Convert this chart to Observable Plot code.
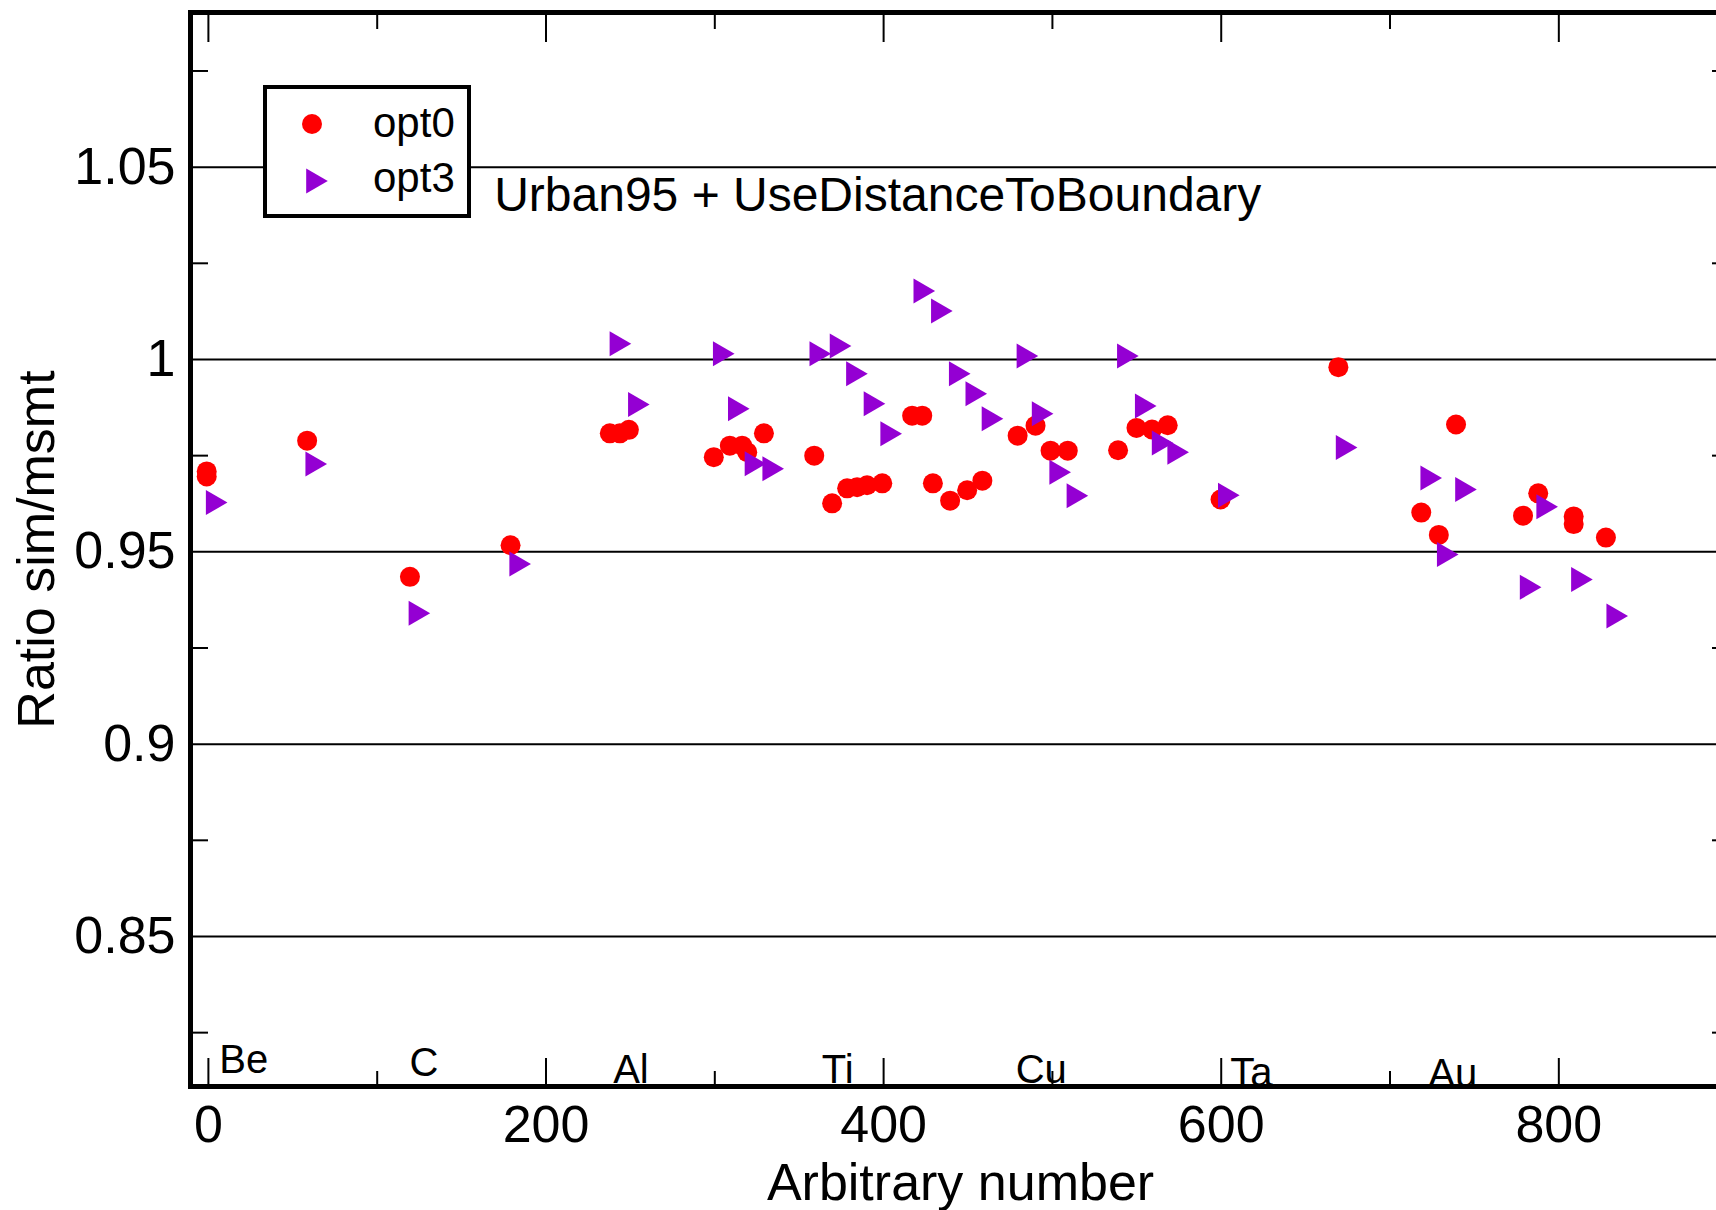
<!DOCTYPE html>
<html>
<head>
<meta charset="utf-8">
<script src="https://cdn.jsdelivr.net/npm/d3@7"></script>
<script src="https://cdn.jsdelivr.net/npm/@observablehq/plot@0.6"></script>
<style>
  html, body { margin: 0; padding: 0; overflow: hidden; background: #fff; }
  #wrap { position: relative; width: 1716px; height: 1210px; overflow: hidden; }
  #wrap > svg.chart { max-width: none !important; width: 1730px; height: 1210px; display: block; }
  #legend { position: absolute; left: 263px; top: 85px; }
</style>
</head>
<body>
<div id="wrap"></div>
<script>
// ---- data ----
const opt0X = [-1, -1, 58.5, 119.4, 179, 237.8, 243.8, 249.1, 299.4, 308.9, 316.2, 319.2, 329.1,
  358.9, 369.5, 378.4, 384.3, 390.2, 399.2, 416.9, 422.9, 429.2, 439.4, 449.5, 458.5,
  479.4, 490, 498.9, 509.1, 538.9, 549.8, 559, 568.3, 599.6, 669.4,
  718.5, 728.9, 739.1, 778.8, 787.8, 808.8, 808.8, 827.9];
const opt0Y = [0.9709, 0.9696, 0.9789, 0.9435, 0.9517, 0.9808, 0.9808, 0.9817, 0.9746, 0.9776, 0.9776, 0.9759, 0.9808,
  0.975, 0.9626, 0.9665, 0.9668, 0.9673, 0.9678, 0.9854, 0.9854, 0.9678, 0.9633, 0.966, 0.9685,
  0.9802, 0.9828, 0.9763, 0.9763, 0.9764, 0.9822, 0.9818, 0.9829, 0.9636, 0.998,
  0.9602, 0.9544, 0.9831, 0.9594, 0.9652, 0.9592, 0.9572, 0.9537];

const opt3X = [4.9, 63.9, 125, 184.7, 244.1, 255, 305.3, 314.2, 324.1, 334.6,
  362.5, 374.5, 384.2, 394.6, 404.5, 424.1, 434.5, 445.1, 454.9, 464.5,
  485.2, 494.2, 504.6, 514.8, 544.7, 555.3, 565.3, 574.5, 604.5, 674.3,
  724.4, 734.2, 745, 783.3, 793.1, 813.7, 834.6];
const opt3Y = [0.9628, 0.9728, 0.934, 0.9468, 1.0041, 0.9883, 1.0015, 0.9872, 0.9729, 0.9716,
  1.0015, 1.0035, 0.9963, 0.9885, 0.9807, 1.0178, 1.0126, 0.9963, 0.9911, 0.9846,
  1.0009, 0.9859, 0.9707, 0.9646, 1.0009, 0.9879, 0.9783, 0.9759, 0.9647, 0.9771,
  0.9692, 0.9493, 0.9662, 0.9408, 0.9617, 0.9428, 0.9333];

const elemNames = ["Be", "C", "Al", "Ti", "Cu", "Ta", "Au"];
const elemX = [21, 127.7, 250.3, 372.8, 493.4, 617.9, 737.2];
const elemY = [0.8144, 0.8136, 0.812, 0.812, 0.8118, 0.8112, 0.811];

const seriesNames = ["opt0", "opt3"];
const annText = ["Urban95 + UseDistanceToBoundary"];
const annX = [169.3];
const annY = [1.0386];

const xMajor = [0, 200, 400, 600, 800];
const xMinor = [100, 300, 500, 700];
const yMajor = [0.85, 0.9, 0.95, 1, 1.05];
const yMinor = [0.825, 0.875, 0.925, 0.975, 1.025, 1.075];

const xDomain = [-10.6, 901.7];
const yDomain = [0.811, 1.0902];

// ---- styles ----
const RED = "#ff0000";
const VIOLET = "#9400d3";
const FONT = "'Liberation Sans', Arial, Helvetica, sans-serif";

const triRight = {
  draw(ctx, size) {
    const r = Math.sqrt(size / Math.PI);
    const h = r * 1.25, w = r * 1.08;
    ctx.moveTo(-w, -h);
    ctx.lineTo(w, 0);
    ctx.lineTo(-w, h);
    ctx.closePath();
  }
};

const opt0 = opt0X.map((x, i) => ({x, y: opt0Y[i]}));
const opt3 = opt3X.map((x, i) => ({x, y: opt3Y[i]}));
const elems = elemNames.map((t, i) => ({t, x: elemX[i], y: elemY[i]}));
const ann = annText.map((t, i) => ({t, x: annX[i], y: annY[i]}));

const W = 1730, H = 1210, ML = 190, MR = 0, MT = 12, MB = 124;
const PW = W - ML - MR, PH = H - MT - MB;

const chart = Plot.plot({
  width: W, height: H,
  marginLeft: ML, marginRight: MR, marginTop: MT, marginBottom: MB,
  className: "chart",
  style: {fontFamily: FONT, fontSize: "52px", background: "white", color: "black", maxWidth: "none", overflow: "hidden"},
  x: {domain: xDomain},
  y: {domain: yDomain},
  marks: [
    Plot.ruleY(yMajor, {stroke: "black", strokeWidth: 2}),
    Plot.tickY(yMinor, {stroke: "black", strokeWidth: 2, insetRight: PW - 18}),
    Plot.tickY(yMinor, {stroke: "black", strokeWidth: 2, insetLeft: PW - 18}),
    Plot.tickX(xMajor, {stroke: "black", strokeWidth: 2, insetTop: PH - 28}),
    Plot.tickX(xMinor, {stroke: "black", strokeWidth: 2, insetTop: PH - 15}),
    Plot.tickX(xMajor, {stroke: "black", strokeWidth: 2, insetBottom: PH - 30}),
    Plot.tickX(xMinor, {stroke: "black", strokeWidth: 2, insetBottom: PH - 17}),
    Plot.frame({stroke: "black", strokeWidth: 5}),
    Plot.axisX({ticks: xMajor, tickSize: 0, tickPadding: 19, tickFormat: d => String(d),
      label: "Arbitrary number", labelAnchor: "center", labelOffset: 113, labelArrow: "none", fontSize: 52}),
    Plot.axisY({ticks: yMajor, tickSize: 0, tickPadding: 15, tickFormat: d => String(d),
      label: "Ratio sim/msmt", labelAnchor: "center", labelOffset: 173, labelArrow: "none", fontSize: 52}),
    Plot.text(elems, {x: "x", y: "y", text: "t", lineAnchor: "bottom", fontSize: 40, fill: "black"}),
    Plot.text(ann, {x: "x", y: "y", text: "t", textAnchor: "start", lineAnchor: "bottom", fontSize: 48, fill: "black"}),
    Plot.dot(opt0, {x: "x", y: "y", r: 10, fill: RED, symbol: "circle"}),
    Plot.dot(opt3, {x: "x", y: "y", r: 10, fill: VIOLET, symbol: triRight})
  ]
});
chart.style.maxWidth = "none";
chart.style.width = W + "px";
chart.style.height = H + "px";

const wrap = document.getElementById("wrap");
wrap.appendChild(chart);

// ---- legend (inside the plot area, as in the reference) ----
const lg = d3.create("svg")
  .attr("id", "legend")
  .attr("width", 208).attr("height", 133)
  .style("font-family", FONT);
lg.append("rect").attr("x", 2).attr("y", 2).attr("width", 204).attr("height", 129)
  .attr("fill", "white").attr("stroke", "black").attr("stroke-width", 4);
lg.append("circle").attr("cx", 49).attr("cy", 39).attr("r", 10).attr("fill", RED);
const p = d3.path();
triRight.draw(p, Math.PI * 100);
lg.append("path").attr("d", p.toString()).attr("transform", "translate(54,96)").attr("fill", VIOLET);
lg.append("text").attr("x", 110).attr("y", 52).attr("font-size", 42).text(seriesNames[0]);
lg.append("text").attr("x", 110).attr("y", 107).attr("font-size", 42).text(seriesNames[1]);
wrap.appendChild(lg.node());
</script>
</body>
</html>
